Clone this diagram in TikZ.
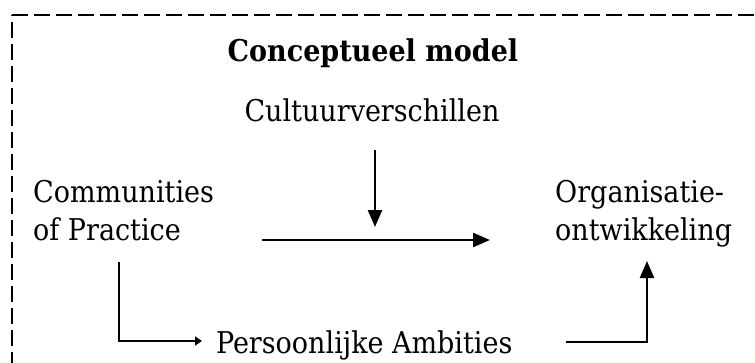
\documentclass[tikz,border=0pt]{standalone}
\usepackage{fontspec}
\setmainfont{DejaVu Serif Condensed}
\usetikzlibrary{arrows.meta}
\tikzset{
  label text/.style={inner sep=0pt, font=\fontsize{30}{38}\selectfont, align=left},
  title text/.style={inner sep=0pt, font=\fontsize{30}{38}\selectfont\bfseries},
  link/.style={line width=2.4pt, -{Triangle[length=17pt,width=14pt]}},
  small link/.style={line width=2.2pt, -{Triangle[length=7pt,width=9pt]}},
  frame/.style={line width=2pt, dash pattern=on 16pt off 6pt}
}
\begin{document}
\begin{tikzpicture}[x=1pt,y=-1pt]
  \useasboundingbox (0,0) rectangle (755,362);
  % dashed frame (open to the right and bottom)
  \coordinate (corner) at (12,15);
  \coordinate (frameR) at (770,15);
  \coordinate (frameB) at (12,380);
  \draw[frame] (corner) -- (frameR);
  \draw[frame, dash phase=-7pt] (corner) -- (frameB);

  % texts (multi-line nodes are placed by the baseline of their last line)
  \node[title text, anchor=base] (title) at (373,61) {Conceptueel model};
  \node[label text, anchor=base] (cultuur) at (372,121) {Cultuurverschillen};
  \node[label text, anchor=base west] (cop) at (33,240) {Communities\\of Practice};
  \node[label text, anchor=base west] (org) at (555,240) {Organisatie-\\ontwikkeling};
  \node[label text, anchor=base west] (amb) at (216,353) {Persoonlijke Ambities};

  % connector end points
  \coordinate (cDown1) at (375,150);
  \coordinate (cDown2) at (375,227);
  \coordinate (hStart) at (262,240);
  \coordinate (hEnd)   at (490,240);
  \coordinate (lTop)   at (119,262);
  \coordinate (lCorner) at (119,341);
  \coordinate (lEnd)   at (202,341);
  \coordinate (rStart) at (566,342);
  \coordinate (rCorner) at (647,342);
  \coordinate (rEnd)   at (647,261);

  % connectors
  \draw[link] (cDown1) -- (cDown2);
  \draw[link] (hStart) -- (hEnd);
  \draw[small link] (lTop) -- (lCorner) -- (lEnd);
  \draw[link] (rStart) -- (rCorner) -- (rEnd);
\end{tikzpicture}
\end{document}
